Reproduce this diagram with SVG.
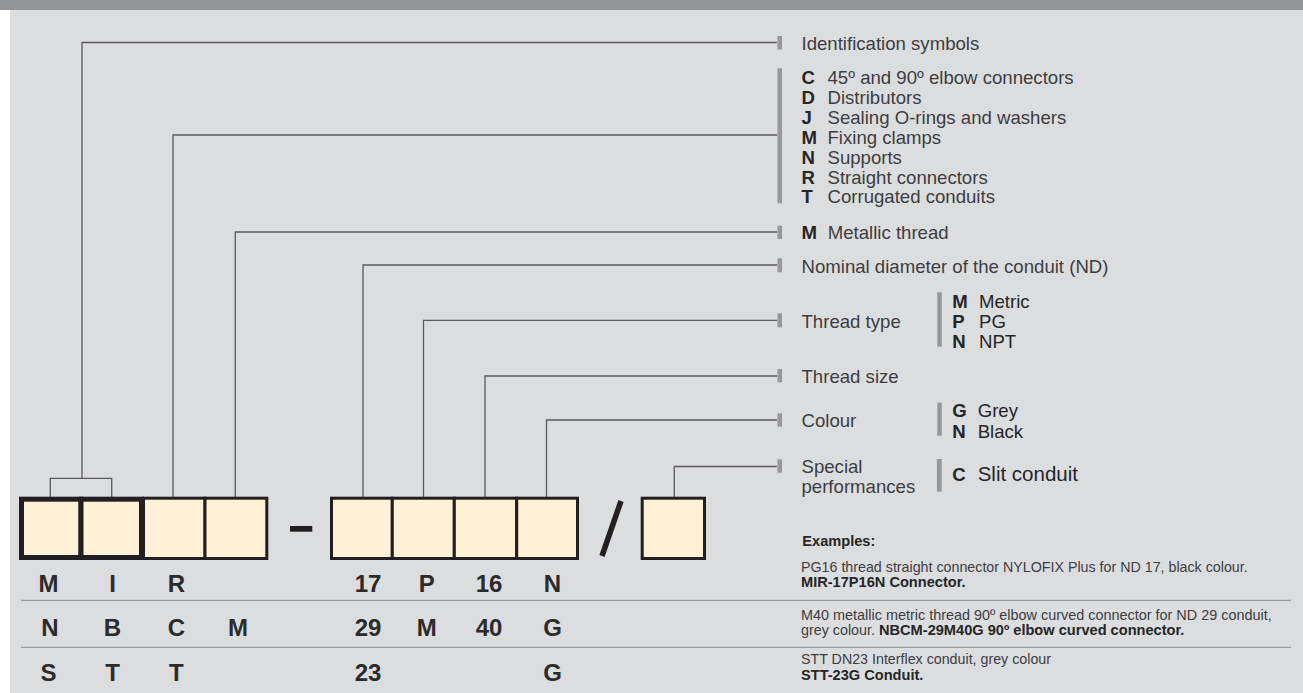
<svg xmlns="http://www.w3.org/2000/svg" width="1303" height="693" viewBox="0 0 1303 693">
<defs>
<style>
.conn{fill:none;stroke:#5a5a5c;stroke-width:1.3}
.tick{fill:#98989a}
.cell{fill:#fef1d5;stroke:#231f20;stroke-width:3}
.thick{fill:#fef1d5;stroke:#231f20;stroke-width:5}
.lbl{font-family:"Liberation Sans",Arial,sans-serif;font-size:18.6px;fill:#3d3d3f}
.key{font-family:"Liberation Sans",Arial,sans-serif;font-size:18.6px;font-weight:bold;fill:#262626}
.dk{font-family:"Liberation Sans",Arial,sans-serif;font-size:18.6px;fill:#262626}
.code{font-family:"Liberation Sans",Arial,sans-serif;font-size:24px;font-weight:bold;fill:#2b2b2b;text-anchor:middle}
.ex{font-family:"Liberation Sans",Arial,sans-serif;font-size:15px;fill:#3d3d3f}
.exb{font-family:"Liberation Sans",Arial,sans-serif;font-size:14.6px;font-weight:bold;fill:#262626}
.sep{stroke:#9a9a9c;stroke-width:1.2}
</style>
</defs>
<rect x="0" y="0" width="1303" height="693" fill="#ffffff"/>
<rect x="10" y="10" width="1293" height="683" fill="#dcdddf"/>
<rect x="0" y="0" width="1303" height="10" fill="#939498"/>

<g id="connectors">
<polyline class="conn" points="777,42.5 82,42.5 82,478.3"/>
<polyline class="conn" points="50.3,497 50.3,478.3 111.7,478.3 111.7,497"/>
<polyline class="conn" points="777,135 173,135 173,497"/>
<polyline class="conn" points="777,232 235.3,232 235.3,497"/>
<polyline class="conn" points="777,265 363,265 363,497"/>
<polyline class="conn" points="777,320.3 423.5,320.3 423.5,497"/>
<polyline class="conn" points="777,376 485,376 485,497"/>
<polyline class="conn" points="777,420 546.5,420 546.5,497"/>
<polyline class="conn" points="777,466.5 674.3,466.5 674.3,497"/>
</g>

<g id="node-identification">
<rect class="tick" x="777.5" y="36" width="4.5" height="13.5"/>
<text class="lbl" x="801.5" y="50">Identification symbols</text>
</g>

<g id="node-type">
<rect class="tick" x="777.5" y="68.3" width="4.5" height="135"/>
<text class="key" x="801.5" y="83.5">C</text><text class="lbl" x="827.5" y="83.5">45º and 90º elbow connectors</text>
<text class="key" x="801.5" y="103.5">D</text><text class="lbl" x="827.5" y="103.5">Distributors</text>
<text class="key" x="801.5" y="123.5">J</text><text class="lbl" x="827.5" y="123.5">Sealing O-rings and washers</text>
<text class="key" x="801.5" y="143.5">M</text><text class="lbl" x="827.5" y="143.5">Fixing clamps</text>
<text class="key" x="801.5" y="163.5">N</text><text class="lbl" x="827.5" y="163.5">Supports</text>
<text class="key" x="801.5" y="183.5">R</text><text class="lbl" x="827.5" y="183.5">Straight connectors</text>
<text class="key" x="801.5" y="203.3">T</text><text class="lbl" x="827.5" y="203.3">Corrugated conduits</text>
</g>

<g id="node-metallic">
<rect class="tick" x="777.5" y="225.7" width="4.5" height="13.3"/>
<text class="key" x="801.5" y="239.3">M</text><text class="lbl" x="827.7" y="239.3">Metallic thread</text>
</g>

<g id="node-diameter">
<rect class="tick" x="777.5" y="258.3" width="4.5" height="14"/>
<text class="lbl" x="801.5" y="273.3">Nominal diameter of the conduit (ND)</text>
</g>

<g id="node-thread-type">
<rect class="tick" x="777.5" y="313.3" width="4.5" height="14"/>
<text class="lbl" x="801.5" y="328.3">Thread type</text>
<rect class="tick" x="937.3" y="292.3" width="4.5" height="54.4"/>
<text class="key" x="952.3" y="307.7">M</text><text class="dk" x="979" y="307.7">Metric</text>
<text class="key" x="952.3" y="328">P</text><text class="dk" x="979" y="328">PG</text>
<text class="key" x="952.3" y="347.5">N</text><text class="dk" x="979" y="347.5">NPT</text>
</g>

<g id="node-thread-size">
<rect class="tick" x="777.5" y="369" width="4.5" height="13.3"/>
<text class="lbl" x="801.5" y="383.3">Thread size</text>
</g>

<g id="node-colour">
<rect class="tick" x="777.5" y="413.3" width="4.5" height="13.4"/>
<text class="lbl" x="801.5" y="427.3">Colour</text>
<rect class="tick" x="937.3" y="402.7" width="4.5" height="33"/>
<text class="key" x="952.3" y="417.3">G</text><text class="dk" x="977.7" y="417.3">Grey</text>
<text class="key" x="952.3" y="438.3">N</text><text class="dk" x="977.7" y="438.3">Black</text>
</g>

<g id="node-special">
<rect class="tick" x="777.5" y="459.3" width="4.5" height="13.4"/>
<text class="lbl" x="801.5" y="473.3">Special</text>
<text class="lbl" x="801.5" y="492.7">performances</text>
<rect class="tick" x="936.9" y="459" width="4.8" height="32.7"/>
<text class="key" x="952.3" y="480.7">C</text><text class="dk" x="977.7" y="480.7" style="font-size:20.5px">Slit conduit</text>
</g>

<g id="node-code-boxes">
<rect class="cell" x="143.5" y="498.2" width="61.5" height="60.3"/>
<rect class="cell" x="205" y="498.2" width="61.8" height="60.3"/>
<rect class="thick" x="21.5" y="499.2" width="59.5" height="58.3"/>
<rect class="thick" x="81" y="499.2" width="60.5" height="58.3"/>
<rect x="290" y="526" width="22.3" height="5.7" fill="#231f20"/>
<rect class="cell" x="331.5" y="498.2" width="60.8" height="60.3"/>
<rect class="cell" x="392.3" y="498.2" width="62" height="60.3"/>
<rect class="cell" x="454.3" y="498.2" width="62.4" height="60.3"/>
<rect class="cell" x="516.7" y="498.2" width="60.8" height="60.3"/>
<line x1="602" y1="556" x2="621" y2="501" stroke="#231f20" stroke-width="5.5"/>
<rect class="cell" x="642.2" y="498.2" width="62.3" height="60.3"/>
</g>

<g id="node-codes">
<text class="code" x="48.5" y="591.5">M</text>
<text class="code" x="112.5" y="591.5">I</text>
<text class="code" x="176.3" y="591.5">R</text>
<text class="code" x="368" y="591.5">17</text>
<text class="code" x="426.7" y="591.5">P</text>
<text class="code" x="489" y="591.5">16</text>
<text class="code" x="552.5" y="591.5">N</text>
<line class="sep" x1="21" y1="600.3" x2="1291" y2="600.3"/>
<text class="code" x="50" y="636.3">N</text>
<text class="code" x="112.5" y="636.3">B</text>
<text class="code" x="176.3" y="636.3">C</text>
<text class="code" x="238" y="636.3">M</text>
<text class="code" x="368" y="636.3">29</text>
<text class="code" x="426.7" y="636.3">M</text>
<text class="code" x="489" y="636.3">40</text>
<text class="code" x="552.5" y="636.3">G</text>
<line class="sep" x1="21" y1="647.3" x2="1291" y2="647.3"/>
<text class="code" x="48.5" y="680.5">S</text>
<text class="code" x="112.5" y="680.5">T</text>
<text class="code" x="176.3" y="680.5">T</text>
<text class="code" x="368" y="680.5">23</text>
<text class="code" x="552.5" y="680.5">G</text>
</g>

<g id="node-examples">
<text class="exb" x="802.3" y="546">Examples:</text>
<text class="ex" x="801" y="572.3" textLength="446.7" lengthAdjust="spacingAndGlyphs">PG16 thread straight connector NYLOFIX Plus for ND 17, black colour.</text>
<text class="exb" x="801" y="586.7">MIR-17P16N Connector.</text>
<text class="ex" x="801" y="620" textLength="470.7" lengthAdjust="spacingAndGlyphs">M40 metallic metric thread 90º elbow curved connector for ND 29 conduit,</text>
<text class="ex" x="801" y="635" textLength="74" lengthAdjust="spacingAndGlyphs">grey colour.</text>
<text class="exb" x="879" y="635">NBCM-29M40G 90º elbow curved connector.</text>
<text class="ex" x="801" y="664" textLength="250" lengthAdjust="spacingAndGlyphs">STT DN23 Interflex conduit, grey colour</text>
<text class="exb" x="801" y="680">STT-23G Conduit.</text>
</g>
</svg>
